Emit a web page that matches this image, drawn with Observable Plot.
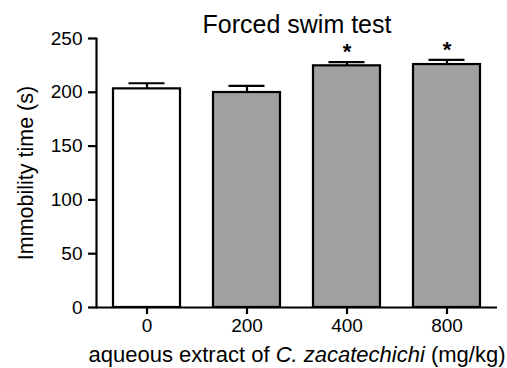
<!DOCTYPE html>
<html>
<head>
<meta charset="utf-8">
<script src="https://cdn.jsdelivr.net/npm/d3@7"></script>
<script src="https://cdn.jsdelivr.net/npm/@observablehq/plot@0.6"></script>
<style>
  html, body { margin: 0; padding: 0; background: white; }
  #chart svg { display: block; }
</style>
</head>
<body>
<div id="chart"></div>
<script>
// ---- data ----
const doses = ["0", "200", "400", "800"];
const means = [203.2, 199.8, 224.6, 225.8];
const sems = [5.2, 6.2, 3.4, 4.4];
const significance = ["", "", "*", "*"];
const yTicks = [0, 50, 100, 150, 200, 250];
const titleText = "Forced swim test";
const yLabel = "Immobility time (s)";
const xLabelParts = ["aqueous extract of ", "C. zacatechichi", " (mg/kg)"];

const rows = doses.map((d, i) => ({dose: d, mean: means[i], sem: sems[i], sig: significance[i]}));

// ---- styles ----
const controlFill = "white";
const treatedFill = "#a0a0a0";
const font = "'Liberation Sans', Arial, Helvetica, sans-serif";
const tickFontSize = 19;

const chart = Plot.plot({
  width: 507,
  height: 368,
  marginLeft: 96,
  marginRight: 10,
  marginTop: 38,
  marginBottom: 61,
  style: {fontFamily: font, fontSize: "19px", color: "black", background: "white"},
  x: {type: "band", domain: doses, paddingInner: 0.33, paddingOuter: 0.17, label: null},
  y: {domain: [0, 250], label: null},
  color: {type: "identity"},
  marks: [
    Plot.barY(rows, {
      x: "dose", y: "mean",
      fill: (d, i) => i === 0 ? controlFill : treatedFill,
      stroke: "black", strokeWidth: 2.2
    }),
    Plot.ruleX(rows, {x: "dose", y1: "mean", y2: d => d.mean + d.sem, stroke: "black", strokeWidth: 2.2}),
    Plot.tickY(rows, {x: "dose", y: d => d.mean + d.sem, stroke: "black", strokeWidth: 2.2, insetLeft: 15.5, insetRight: 15.5}),
    Plot.text(rows.filter(d => d.sig), {
      x: "dose", y: d => d.mean + d.sem, text: "sig",
      lineAnchor: "bottom", dy: -3, fontSize: 22, fontWeight: "bold"
    }),
    Plot.ruleY([0], {stroke: "black", strokeWidth: 2.2}),
    Plot.frame({anchor: "left", stroke: "black", strokeWidth: 2.2}),
    Plot.axisY({ticks: yTicks, tickSize: 8, tickPadding: 6, fontSize: tickFontSize, label: null, strokeWidth: 2.2}),
    Plot.axisX({tickSize: 7, tickPadding: 4, fontSize: tickFontSize, label: null, strokeWidth: 2.2}),
    Plot.text([titleText], {frameAnchor: "top", textAnchor: "middle", lineAnchor: "bottom", dy: -6, fontSize: 25}),
    Plot.text([yLabel], {frameAnchor: "left", textAnchor: "middle", lineAnchor: "bottom", rotate: -90, dx: -64, fontSize: 21.5}),
    Plot.text([xLabelParts.join("")], {frameAnchor: "bottom", textAnchor: "middle", lineAnchor: "bottom", dy: 54, fontSize: 22})
  ]
});

const svg = d3.select(chart);

// make sure axis tick labels use the intended size
svg.selectAll('g[aria-label$="tick label"]').attr("font-size", tickFontSize).style("font-size", tickFontSize + "px");
svg.selectAll('g[aria-label$="tick label"] text').style("font-size", tickFontSize + "px");

// italicise the species name inside the x-axis label
const fullX = xLabelParts.join("");
svg.selectAll("text").filter(function () { return this.textContent === fullX; }).each(function () {
  const xl = d3.select(this);
  xl.text(null);
  xLabelParts.forEach((p, i) => {
    const t = xl.append("tspan").text(p);
    if (i === 1) t.attr("font-style", "italic");
  });
  xl.style("white-space", "pre");
});

document.getElementById("chart").appendChild(chart);
</script>
</body>
</html>
